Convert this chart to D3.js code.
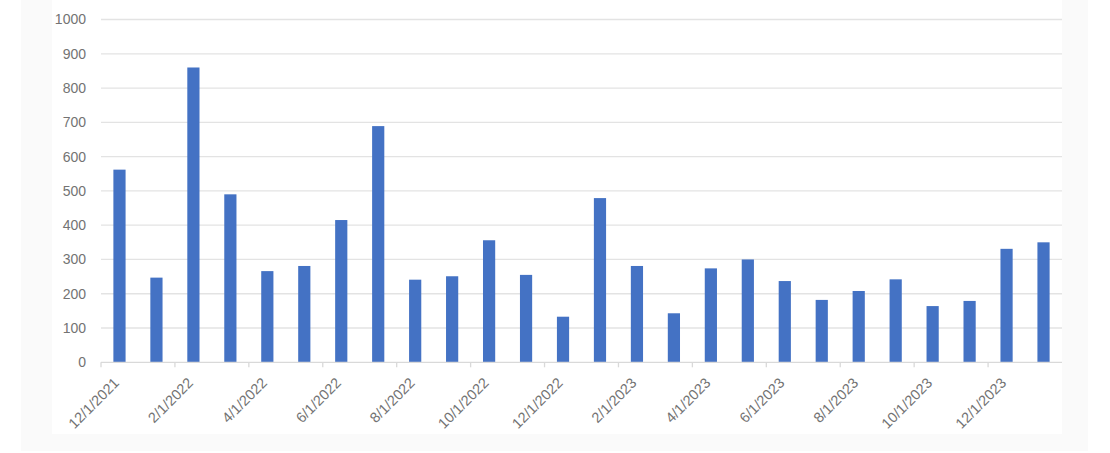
<!DOCTYPE html>
<html><head><meta charset="utf-8">
<script src="https://cdn.jsdelivr.net/npm/d3@7"></script>
<style>html,body{margin:0;padding:0;background:#fff;}svg{display:block;}</style>
</head><body>
<svg id="c" width="1110" height="453"></svg>
<script>
const categories = ["12/1/2021","1/1/2022","2/1/2022","3/1/2022","4/1/2022","5/1/2022","6/1/2022","7/1/2022","8/1/2022","9/1/2022","10/1/2022","11/1/2022","12/1/2022","1/1/2023","2/1/2023","3/1/2023","4/1/2023","5/1/2023","6/1/2023","7/1/2023","8/1/2023","9/1/2023","10/1/2023","11/1/2023","12/1/2023","1/1/2024"];
const values = [562,247,860,490,266,281,415,689,241,251,356,255,133,479,281,143,274,300,237,182,208,242,164,179,331,350];
const yTicks = [0,100,200,300,400,500,600,700,800,900,1000];
const xTickLabels = categories.filter((d,i)=>i%2===0);

const svg = d3.select("#c");
svg.append("rect").attr("x",21).attr("y",0).attr("width",1067).attr("height",451).attr("fill","#fafafa");
svg.append("rect").attr("x",52).attr("y",0).attr("width",1010).attr("height",434).attr("fill","#ffffff");

const pLeft=101, pRight=1062, pTop=19.5, pBottom=362.3;
const x = d3.scaleBand().domain(categories).range([pLeft,pRight]).paddingInner(0.67).paddingOuter(0.335);
const xb = d3.scaleBand().domain(categories).range([pLeft,pRight]);
const y = d3.scaleLinear().domain([0,1000]).range([pBottom,pTop]);
const font = "Liberation Sans, Arial, sans-serif";

// gridlines
svg.append("g").selectAll("line").data(yTicks.filter(d=>d>0)).join("line")
  .attr("x1",pLeft).attr("x2",pRight).attr("y1",d=>y(d)).attr("y2",d=>y(d))
  .attr("stroke","#e3e3e3").attr("stroke-width",1.3);

// y axis labels
const yAxis = d3.axisLeft(y).tickValues(yTicks).tickSize(0).tickPadding(15).tickFormat(d3.format("d"));
const gy = svg.append("g").attr("transform",`translate(${pLeft},0)`).call(yAxis);
gy.select(".domain").remove();
gy.selectAll("text").attr("fill","#737373").attr("font-family",font).attr("font-size","14px");

// bars
svg.append("g").selectAll("rect").data(values).join("rect")
  .attr("x",(d,i)=>x(categories[i])).attr("width",x.bandwidth())
  .attr("y",d=>y(d)).attr("height",d=>pBottom-y(d))
  .attr("fill","#4472c4");

// x axis line
svg.append("line").attr("x1",pLeft).attr("x2",pRight).attr("y1",pBottom).attr("y2",pBottom)
  .attr("stroke","#d9d9d9").attr("stroke-width",1.3);
// tick marks every 2 categories
svg.append("g").selectAll("line").data(xTickLabels).join("line")
  .attr("x1",d=>xb(d)).attr("x2",d=>xb(d)).attr("y1",pBottom).attr("y2",pBottom+5)
  .attr("stroke","#d9d9d9").attr("stroke-width",1.3);
// x labels
svg.append("g").selectAll("text").data(xTickLabels).join("text")
  .attr("transform",d=>`translate(${xb(d)+xb.bandwidth()/2-3},${pBottom+18}) rotate(-45)`)
  .attr("text-anchor","end").attr("dy","0.35em")
  .attr("fill","#737373").attr("font-family",font).attr("font-size","14.5px")
  .text(d=>d);
</script>
</body></html>
